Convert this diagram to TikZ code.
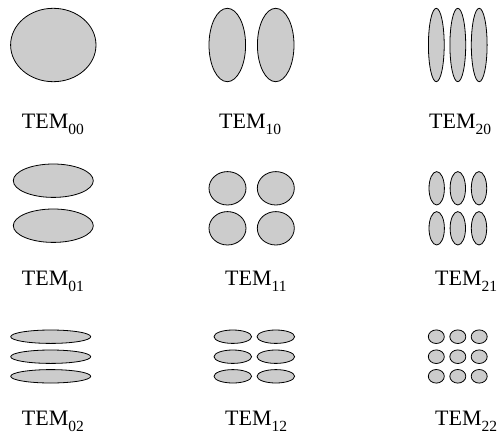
\documentclass[tikz,border=0pt]{standalone}
\usepackage{fontspec}
\setmainfont{Liberation Serif}
\newcommand\modesub[1]{\raisebox{-6pt}{\fontsize{15.5}{16}\selectfont #1}}
\begin{document}
\begin{tikzpicture}[x=1pt,y=-1pt,
  mode/.style={draw=black,fill=black!20,line width=0.8pt},
  lbl/.style={anchor=base west,inner sep=0pt,font=\fontsize{22}{26}\selectfont}]
\useasboundingbox (0,0) rectangle (497,436);
% TEM00
\draw[mode] (53.3,45) ellipse [x radius=42.7pt, y radius=36.7pt];
% TEM10
\foreach \x in {227.3,275.7} \draw[mode] (\x,45) ellipse [x radius=18.3pt, y radius=36.7pt];
% TEM20
\foreach \x in {436.3,457.8,479.2} \draw[mode] (\x,45) ellipse [x radius=7.9pt, y radius=36.7pt];
% TEM01
\foreach \y in {180.7,225.7} \draw[mode] (53.3,\y) ellipse [x radius=40pt, y radius=16.7pt];
% TEM11
\foreach \x in {227.5,275.8} \foreach \y in {188.3,228.3}
  \draw[mode] (\x,\y) ellipse [x radius=18.5pt, y radius=16.7pt];
% TEM21
\foreach \x in {436.7,457.8,479} \foreach \y in {188.3,228.3}
  \draw[mode] (\x,\y) ellipse [x radius=7.7pt, y radius=16.7pt];
% TEM02
\foreach \y in {336.7,356.7,376.3} \draw[mode] (50.7,\y) ellipse [x radius=40pt, y radius=6.7pt];
% TEM12
\foreach \x in {232.8,275.8} \foreach \y in {336.7,356.7,376.3}
  \draw[mode] (\x,\y) ellipse [x radius=18.8pt, y radius=6.7pt];
% TEM22
\foreach \x in {436.3,457.8,479.2} \foreach \y in {336.7,356.7,376.3}
  \draw[mode] (\x,\y) ellipse [x radius=8pt, y radius=6.8pt];
% labels
\node[lbl] (t00) at (21.7,128) {TEM\modesub{00}};
\node[lbl] (t10) at (219,128) {TEM\modesub{10}};
\node[lbl] (t20) at (429,128) {TEM\modesub{20}};
\node[lbl] (t01) at (21.7,285) {TEM\modesub{01}};
\node[lbl] (t11) at (225,285) {TEM\modesub{11}};
\node[lbl] (t21) at (435,285) {TEM\modesub{21}};
\node[lbl] (t02) at (21.7,425) {TEM\modesub{02}};
\node[lbl] (t12) at (225,425) {TEM\modesub{12}};
\node[lbl] (t22) at (435,425) {TEM\modesub{22}};
\end{tikzpicture}
\end{document}
